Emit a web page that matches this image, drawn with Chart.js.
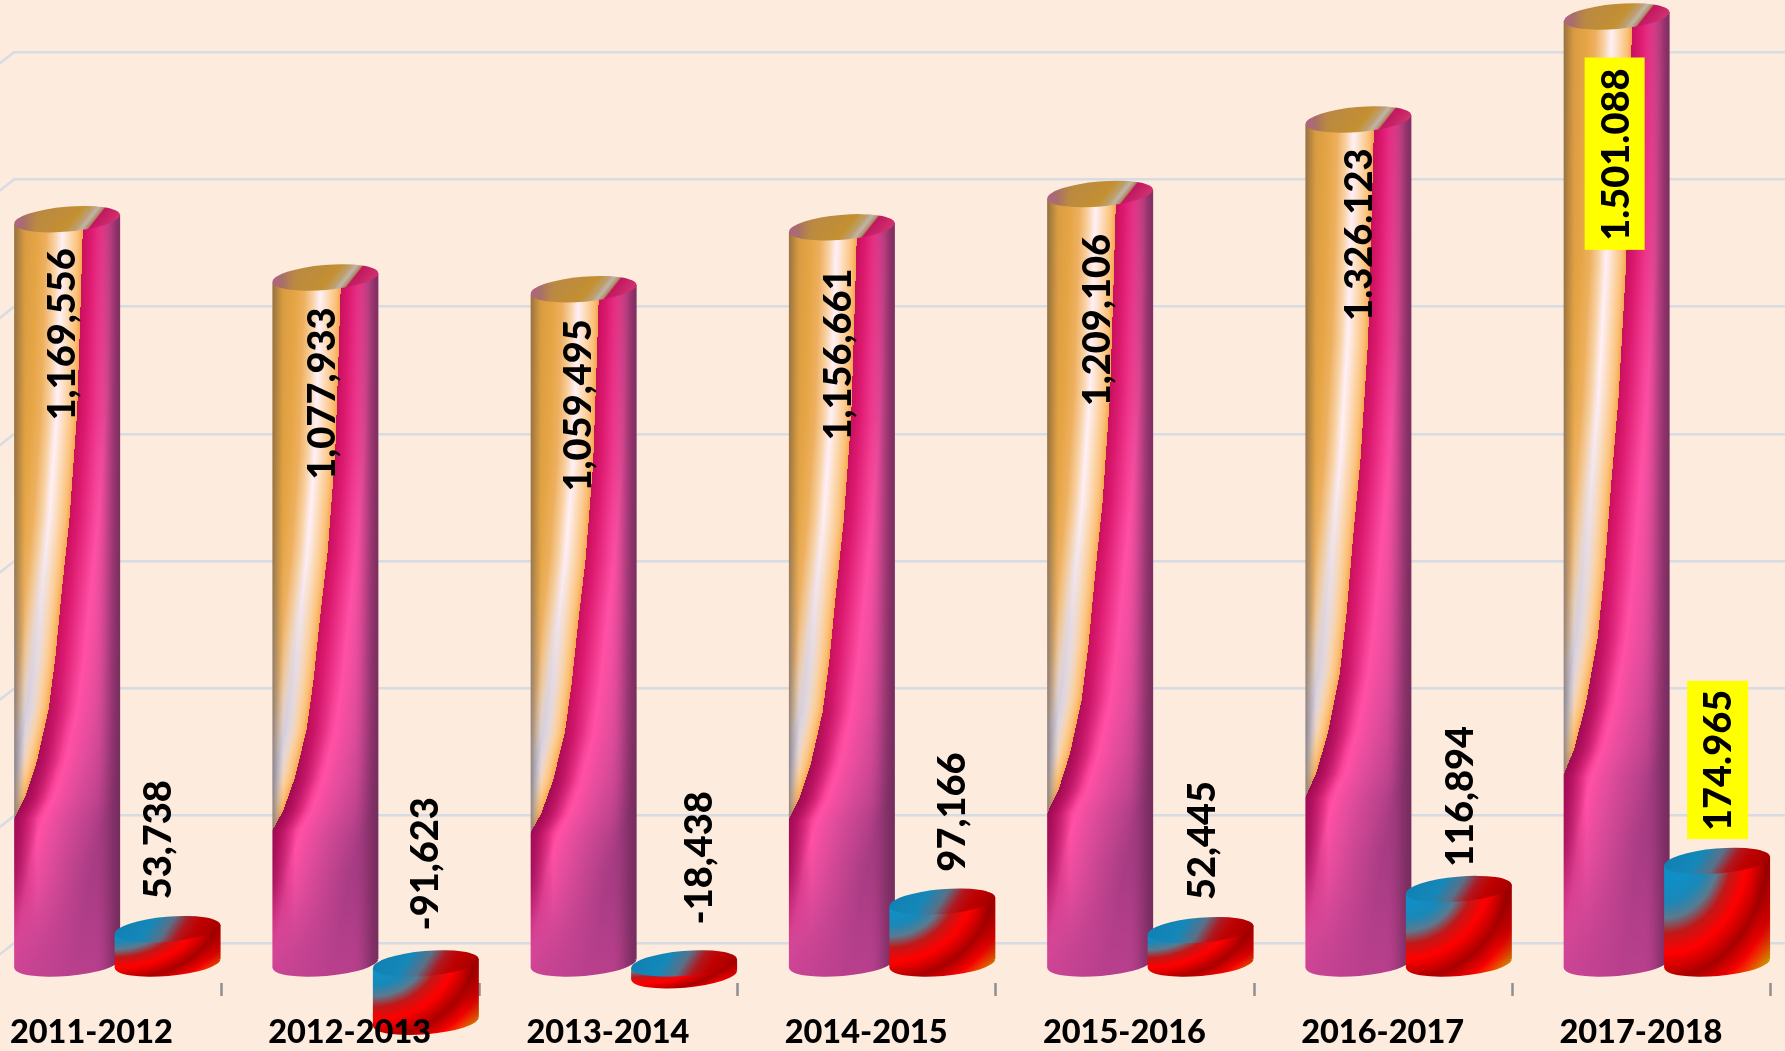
<!DOCTYPE html>
<html lang="en">
<head>
<meta charset="UTF-8">
<title>2011-2018</title>
<script src="https://cdn.jsdelivr.net/npm/chart.js"></script>
<style>
    html, body { margin: 0; padding: 0; width: 1785px; height: 1051px; overflow: hidden; background: #fdebde; }
    canvas { position: absolute; left: 0; top: 0; }
</style>
</head>
<body>
<canvas id="myChart" width="1830" height="1051"></canvas>
<script>
const categories = ['2011-2012','2012-2013','2013-2014','2014-2015','2015-2016','2016-2017','2017-2018'];
// bar heights as they stand in the picture
const totals  = [1169556, 1077933, 1059495, 1156661, 1209106, 1326123, 1488000];
const changes = [53738, -91623, -18438, 97166, 52445, 116894, 161000];
// the printed numbers (the last ones are typed with dots in the original)
const totalLabels  = ['1,169,556','1,077,933','1,059,495','1,156,661','1,209,106','1.326.123','1.501.088'];
const changeLabels = ['53,738','-91,623','-18,438','97,166','52,445','116,894','174.965'];
const yTicks = { min: 0, max: 1400000, step: 200000 };

// 3d box of the old chart: back wall is the chart area, bars stand half way to the front
const DEPTH_X = 52, DEPTH_Y = 41;
const TILT = -0.085, CAP_RY = 12.5;
const LABEL_FONT = '900 38px Lato';

// label nudges, px from the place a label would normally sit
const totalNudge  = [[-4,0],[-3,1],[-5,1],[-3,12],[-2,11],[1,0],[0,23]];
const changeNudge = [[-9,0],[0,-3],[16,-9],[10,0],[2,0],[2,8],[2,0]];
const highlight = { total: [6], change: [6] };

function lerp(a, b, t) { return a + (b - a) * t; }
function clamp(t) { return Math.max(0, Math.min(1, t)); }
function smooth(a, b, x) { var t = clamp((x - a) / (b - a)); return t * t * (3 - 2 * t); }
function hex(c) { return [parseInt(c.substr(1,2),16), parseInt(c.substr(3,2),16), parseInt(c.substr(5,2),16)]; }
function mix(a, b, t) { return [lerp(a[0],b[0],t), lerp(a[1],b[1],t), lerp(a[2],b[2],t)]; }
function ramp(stops, x) {
    if (x <= stops[0][0]) return hex(stops[0][1]);
    for (var i = 1; i < stops.length; i++) {
        if (x <= stops[i][0]) {
            return mix(hex(stops[i-1][1]), hex(stops[i][1]), (x - stops[i-1][0]) / (stops[i][0] - stops[i-1][0]));
        }
    }
    return hex(stops[stops.length-1][1]);
}

const edgeCurve = [[0,.65],[.12,.625],[.27,.59],[.404,.52],[.494,.45],[.583,.387],[.65,.324],[.717,.214],[.763,.104],[.791,0],[.85,-.12],[1,-.3]];
function edgeAt(t) {
    for (var i = 1; i < edgeCurve.length; i++) {
        if (t <= edgeCurve[i][0]) {
            return lerp(edgeCurve[i-1][1], edgeCurve[i][1], (t - edgeCurve[i-1][0]) / (edgeCurve[i][0] - edgeCurve[i-1][0]));
        }
    }
    return -.3;
}
const orangeStops = [[0,'#f4a850'],[.04,'#fcc078'],[.11,'#fcd8b0'],[.19,'#fff0f8'],[.26,'#f8d0a0'],[.34,'#eeb060'],[.42,'#e6a646'],[.56,'#d89a40'],[.7,'#c08c40']];
const pinkStops   = [[0,'#c8105c'],[.08,'#dc1a70'],[.27,'#ff50a5'],[.5,'#d84a98'],[.85,'#a83c84']];

function tallColor(u, t) {
    var b = edgeAt(t), c;
    if (u < b) {
        c = ramp(orangeStops, b - u);
        // highlight goes lavender further down
        c = mix(c, hex('#c8c4d4'), smooth(.35, .7, t) * (1 - clamp(Math.abs(b - u - .2) / .12)) * .8);
        var rim = mix(hex('#8c6c40'), hex('#80787c'), smooth(.3, .65, t));
        c = mix(c, rim, Math.pow(1 - clamp(u / .11), 1.3) * .9);
    } else {
        c = ramp(pinkStops, u - b);
        var low = smooth(.55, .78, t) * (1 - smooth(.84, .98, t));
        c = mix(c, hex('#8e0a50'), (1 - clamp((u - Math.max(b,0)) / .22)) * low * .75);
        c = mix(c, hex('#bd408f'), smooth(.84, 1, t) * .75);
        c = mix(c, hex('#6e2a58'), Math.pow(smooth(.72, 1, u), 1.6) * .85);
    }
    return c;
}
const tallCapStops = [[0,'#b0608c'],[.1,'#a87068'],[.2,'#bb8a40'],[.42,'#c49030'],[.52,'#bca070'],[.57,'#c2b4ac'],[.62,'#b08c60'],[.64,'#c01860'],[.82,'#d0306f'],[1,'#903060']];
function tallCapColor(u, v) { return ramp(tallCapStops, u - .26 * (1 - v) * smooth(.1, .55, u)); }

const shortStops = [[.2,'#0f8fc6'],[.3,'#1a88b8'],[.38,'#5a7a90'],[.46,'#c01818'],[.56,'#ff0000'],[.62,'#d80000'],[.69,'#a80000'],[.79,'#f40000'],[.85,'#f04000'],[.93,'#c8b000']];
function shortColor(u, v) {
    var c = ramp(shortStops, Math.sqrt(u * u + v * v) / Math.SQRT2);
    return mix(c, [110,0,0], smooth(.8, 1, u) * .3 * (1 - smooth(.5, 1, v)));
}
const shortCapStops = [[0,'#1080b4'],[.3,'#1488b8'],[.48,'#5a7088'],[.62,'#b01820'],[.75,'#c00000'],[1,'#a00000']];
function shortCapColor(u, v) { return ramp(shortCapStops, u - .22 * (1 - v) + .1); }

// paints the surface of one cylinder into an offscreen canvas
function surface(w, h, fn) {
    var cv = document.createElement('canvas');
    cv.width = w; cv.height = h;
    var c2 = cv.getContext('2d'), img = c2.createImageData(w, h);
    for (var y = 0; y < h; y++) {
        for (var x = 0; x < w; x++) {
            var col = fn((x + .5) / w, (y + .5) / h), p = (y * w + x) * 4;
            img.data[p] = col[0]; img.data[p+1] = col[1]; img.data[p+2] = col[2]; img.data[p+3] = 255;
        }
    }
    c2.putImageData(img, 0, 0);
    return cv;
}

function drawCylinder(ctx, cx, rx, topY, botY, bodyFn, capFn) {
    var lift = Math.sin(-TILT) * rx;
    var x0 = Math.floor(cx - rx), w = Math.ceil(rx * 2) + 1;
    var y0 = Math.floor(topY - CAP_RY - lift), h = Math.ceil(botY + CAP_RY + lift - y0) + 1;
    ctx.save();
    ctx.beginPath();
    ctx.moveTo(cx - rx, topY + lift);
    ctx.lineTo(cx + rx, topY - lift);
    ctx.lineTo(cx + rx, botY - lift);
    ctx.lineTo(cx - rx, botY + lift);
    ctx.closePath();
    ctx.moveTo(cx + rx, botY - lift);
    ctx.ellipse(cx, botY, rx, CAP_RY, TILT, 0, Math.PI * 2);
    ctx.clip();
    ctx.drawImage(surface(w, h, bodyFn), x0, y0);
    ctx.restore();
    // cap
    ctx.save();
    ctx.beginPath();
    ctx.ellipse(cx, topY, rx, CAP_RY, TILT, 0, Math.PI * 2);
    ctx.clip();
    var capH = Math.ceil((CAP_RY + lift) * 2) + 1, capY = Math.floor(topY - CAP_RY - lift);
    ctx.drawImage(surface(w, capH, capFn), x0, capY);
    ctx.restore();
}

function drawLabel(ctx, text, x, y, align) {
    ctx.save();
    ctx.translate(x, y);
    ctx.rotate(-Math.PI / 2);
    ctx.font = LABEL_FONT;
    ctx.fillStyle = '#000';
    ctx.textAlign = align;
    ctx.textBaseline = 'middle';
    ctx.fillText(text, 0, 0);
    ctx.restore();
}

const cylinders = {
    id: 'cylinders',
    beforeDatasetsDraw(chart) {
        const ctx = chart.ctx, xs = chart.scales.x, ys = chart.scales.y;
        // wall edge running to the front, and the little axis ticks on the floor
        ctx.save();
        ctx.strokeStyle = '#d6dce2';
        ctx.lineWidth = 2.5;
        ys.ticks.forEach(function (t) {
            var py = ys.getPixelForValue(t.value);
            ctx.beginPath();
            ctx.moveTo(xs.left, py);
            ctx.lineTo(xs.left - DEPTH_X, py + DEPTH_Y);
            ctx.stroke();
        });
        ctx.strokeStyle = '#8f8f8f';
        var slot = xs.width / categories.length;
        categories.forEach(function (c, i) {
            var px = Math.round(xs.getPixelForValue(i) + slot / 2 - DEPTH_X) + .5;
            ctx.beginPath();
            ctx.moveTo(px, ys.bottom + DEPTH_Y - 1);
            ctx.lineTo(px, ys.bottom + DEPTH_Y + 12);
            ctx.stroke();
        });
        ctx.restore();

        var shiftY = DEPTH_Y / 2, shiftX = DEPTH_X / 2;
        var base = ys.getPixelForValue(0) + shiftY;
        var tall = chart.getDatasetMeta(0).data, short = chart.getDatasetMeta(1).data;
        categories.forEach(function (c, i) {
            var b = tall[i], val = ys.getPixelForValue(totals[i]) + shiftY;
            drawCylinder(ctx, b.x - shiftX, b.width / 2, val, base, tallColor, tallCapColor);
            b = short[i];
            val = ys.getPixelForValue(changes[i]) + shiftY;
            drawCylinder(ctx, b.x - shiftX, b.width / 2, Math.min(val, base), Math.max(val, base), shortColor, shortCapColor);
        });
    },
    afterDatasetsDraw(chart) {
        const ctx = chart.ctx, ys = chart.scales.y;
        var shiftY = DEPTH_Y / 2, shiftX = DEPTH_X / 2;
        var base = ys.getPixelForValue(0) + shiftY;
        var tall = chart.getDatasetMeta(0).data, short = chart.getDatasetMeta(1).data;
        ctx.save();
        ctx.font = LABEL_FONT;
        categories.forEach(function (c, i) {
            // tall: text ends a bit under the cap
            var x = tall[i].x - shiftX + totalNudge[i][0];
            var y = ys.getPixelForValue(totals[i]) + shiftY + 29 + totalNudge[i][1];
            if (highlight.total.indexOf(i) >= 0) {
                var len = ctx.measureText(totalLabels[i]).width;
                ctx.fillStyle = '#ffff00';
                ctx.fillRect(x - 32, y - 11, 60, len + 20);
            }
            drawLabel(ctx, totalLabels[i], x, y, 'right');

            // short: text starts above the cap
            x = short[i].x - shiftX + changeNudge[i][0];
            y = Math.min(ys.getPixelForValue(changes[i]) + shiftY, base) - 30 + changeNudge[i][1];
            if (highlight.change.indexOf(i) >= 0) {
                len = ctx.measureText(changeLabels[i]).width;
                ctx.fillStyle = '#ffff00';
                ctx.fillRect(x - 32, y - len - 9, 61, len + 17);
            }
            drawLabel(ctx, changeLabels[i], x, y, 'left');
        });
        ctx.restore();
    }
};

const ctx = document.getElementById('myChart').getContext('2d');
const myChart = new Chart(ctx, {
    type: 'bar',
    data: {
        labels: categories,
        datasets: [
            { label: 'total', data: totals, backgroundColor: 'transparent', categoryPercentage: .778, barPercentage: 1.055 },
            { label: 'change', data: changes, backgroundColor: 'transparent', categoryPercentage: .778, barPercentage: 1.055 }
        ]
    },
    options: {
        responsive: false,
        animation: false,
        devicePixelRatio: 1,
        layout: { padding: { left: 14.25, right: 8, top: 52, bottom: 0 } },
        plugins: { legend: { display: false }, tooltip: { enabled: false }, title: { display: false } },
        scales: {
            x: {
                afterFit: function (s) { s.height = 108; s.paddingLeft = 0; s.paddingRight = 0; },
                grid: { display: false, drawTicks: false },
                border: { display: false },
                ticks: {
                    z: 1,
                    padding: 70,
                    labelOffset: -DEPTH_X,
                    autoSkip: false,
                    maxRotation: 0,
                    color: '#000',
                    font: { family: 'Lato', weight: '900', size: 32.5 }
                }
            },
            y: {
                min: yTicks.min,
                max: yTicks.max,
                afterFit: function (s) { s.width = 0; },
                border: { display: false },
                grid: { color: '#d6dce2', lineWidth: 2.5, drawTicks: false },
                ticks: { display: false, stepSize: yTicks.step }
            }
        }
    },
    plugins: [cylinders]
});
</script>
</body>
</html>
